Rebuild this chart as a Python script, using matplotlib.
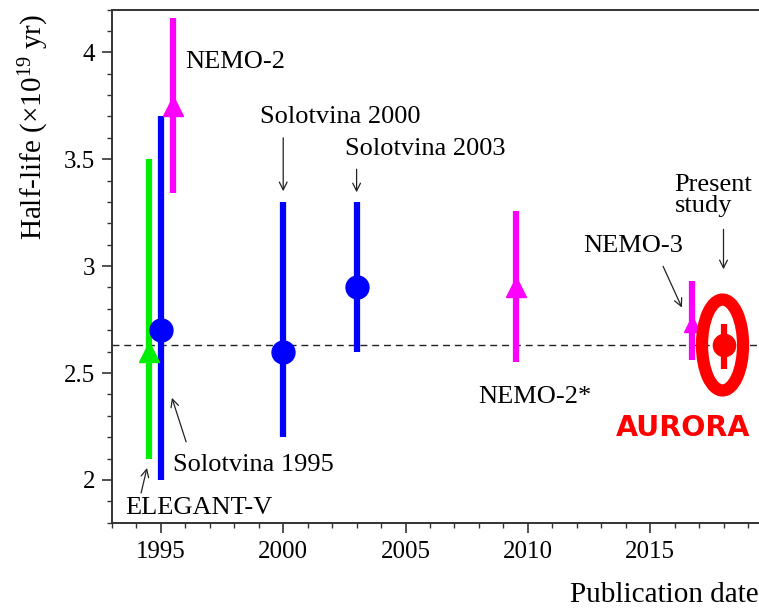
import matplotlib
matplotlib.use("Agg")
import matplotlib.pyplot as plt
from matplotlib.patches import Ellipse
from matplotlib.ticker import MultipleLocator

plt.rcParams['font.family'] = ['Liberation Serif', 'DejaVu Serif']
plt.rcParams['mathtext.fontset'] = 'custom'
plt.rcParams['mathtext.rm'] = 'Liberation Serif'
plt.rcParams['mathtext.it'] = 'Liberation Serif:italic'

# ---- data ----
names = ["ELEGANT-V", "Solotvina 1995", "NEMO-2", "Solotvina 2000",
         "Solotvina 2003", "NEMO-2*", "NEMO-3", "Present study"]
years = [1994.5, 1995.0, 1995.5, 2000.0, 2003.0, 2009.5, 2016.7, 2018.0]
half_life = [2.6, 2.7, 3.75, 2.6, 2.9, 2.9, 2.73, 2.63]
err_low = [2.1, 2.0, 3.34, 2.2, 2.6, 2.55, 2.56, 2.52]
err_high = [3.5, 3.7, 4.16, 3.3, 3.3, 3.26, 2.93, 2.73]
colors = ["#00ee00", "#0000ff", "#ff00ff", "#0000ff", "#0000ff",
          "#ff00ff", "#ff00ff", "#ff0000"]
markers = ["^", "o", "^", "o", "o", "^", "^", "o"]
mean_value = 2.63

x_ticks = [1995, 2000, 2005, 2010, 2015]
y_ticks = [2, 2.5, 3, 3.5, 4]

fig = plt.figure(figsize=(7.59, 6.08), dpi=100)
ax = fig.add_axes([112/759, (608-522.7)/608, (759-112)/759, (522.7-9.5)/608])
ax.set_xlim(1993, 1993 + (759-112)/24.46)
ax.set_ylim(1.8, 4.2)

ax.axhline(mean_value, color='#222222', lw=1.0, ls=(0, (5, 3.5)), zorder=1)

msizes = {"o": 16.5, "^": 14.5}
for i in range(len(years)):
    ax.vlines(years[i], err_low[i], err_high[i], color=colors[i], lw=4.5,
              capstyle='butt', zorder=2)
    ms = msizes[markers[i]]
    if names[i] == "NEMO-3":
        ms = 12
    if names[i] == "Present study":
        ms = 16
    ax.plot(years[i], half_life[i], marker=markers[i], color=colors[i],
            ms=ms, mec=colors[i], zorder=3)

ell = Ellipse((2017.96, 2.631), 1.68, 0.425, fill=False, ec='#ff0000',
              lw=8.8, zorder=4)
ax.add_patch(ell)

# ticks
ax.set_xticks(x_ticks)
ax.set_xticklabels([str(t) for t in x_ticks])
ax.set_yticks(y_ticks)
ax.set_yticklabels(["2", "2.5", "3", "3.5", "4"])
ax.xaxis.set_minor_locator(MultipleLocator(1))
ax.yaxis.set_minor_locator(MultipleLocator(0.1))
ax.tick_params(which='major', direction='out', length=7, width=1.2,
               color='#333333', labelsize=18, pad=5)
ax.tick_params(which='minor', direction='out', length=3.5, width=1.0,
               color='#333333')
ax.tick_params(axis='x', which='major', pad=6)
for s in ax.spines.values():
    s.set_color('#333333')
    s.set_linewidth(1.4)
ax.spines['right'].set_visible(False)

fig.text(34/759, 1 - 127/608, "Half-life (×10$^{19}$ yr)", rotation=90,
         ha='center', va='center', fontsize=21)
fig.text(759/759, 1 - 595/608, "Publication date", ha='right', va='center',
         fontsize=21)

fs = 19
arrow = dict(arrowstyle='->', color='#222222', lw=0.9, shrinkA=0, shrinkB=0,
             mutation_scale=14)
ax.text(1995.98, 3.955, "NEMO-2", fontsize=fs, ha='left', va='center')
ax.text(1999.05, 3.697, "Solotvina 2000", fontsize=fs, ha='left', va='center')
ax.annotate("", xy=(2000.0, 3.35), xytext=(2000.0, 3.60), arrowprops=arrow)
ax.text(2002.53, 3.547, "Solotvina 2003", fontsize=fs, ha='left', va='center')
ax.annotate("", xy=(2003.0, 3.345), xytext=(2003.0, 3.453), arrowprops=arrow)
ax.text(2016.0, 3.329, "Present\nstudy", fontsize=fs, ha='left', va='center',
        linespacing=0.95)
ax.annotate("", xy=(2018.0, 2.985), xytext=(2018.0, 3.172), arrowprops=arrow)
ax.text(2012.26, 3.092, "NEMO-3", fontsize=fs, ha='left', va='center')
ax.annotate("", xy=(2016.30, 2.806), xytext=(2015.53, 2.999), arrowprops=arrow)
ax.text(2007.96, 2.389, "NEMO-2*", fontsize=fs, ha='left', va='center')
ax.text(2016.35, 2.244, "AURORA", fontsize=20.5, ha='center', va='center',
        color='#ff0000', fontweight='bold', family=['DejaVu Sans'])
ax.text(1995.49, 2.070, "Solotvina 1995", fontsize=fs, ha='left', va='center')
ax.annotate("", xy=(1995.45, 2.384), xytext=(1996.03, 2.178), arrowprops=arrow)
ax.text(1993.53, 1.869, "ELEGANT-V", fontsize=fs, ha='left', va='center')
ax.annotate("", xy=(1994.43, 2.056), xytext=(1994.19, 1.939), arrowprops=arrow)

fig.savefig("out.png", dpi=100)
